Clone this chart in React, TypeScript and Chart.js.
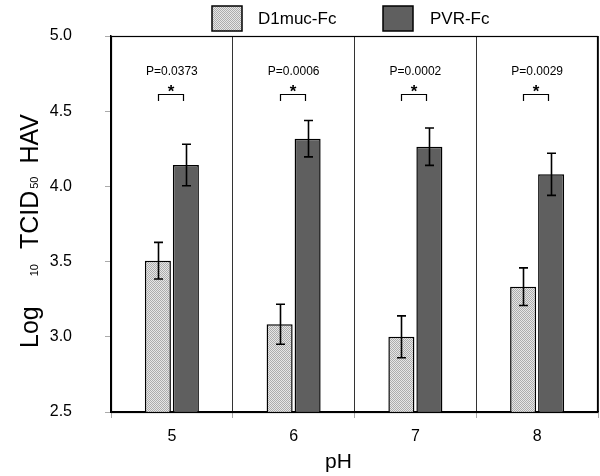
import React, { useEffect, useRef } from 'react';
import { Chart, registerables } from 'chart.js';

Chart.register(...registerables);

const categories = ['5', '6', '7', '8'];
const seriesLabels = ['D1muc-Fc', 'PVR-Fc'];
const d1mucValues = [3.506, 3.083, 3.0, 3.333];
const d1mucErrors = [0.122, 0.133, 0.139, 0.125];
const pvrValues = [4.142, 4.317, 4.264, 4.08];
const pvrErrors = [0.138, 0.121, 0.124, 0.14];
const pValues = ['P=0.0373', 'P=0.0006', 'P=0.0002', 'P=0.0029'];
const yMin = 2.5;
const yMax = 5.0;
const yStep = 0.5;
const xTitle = 'pH';
const yTitleParts = [
  { text: 'Log', sub: false },
  { text: '10', sub: true },
  { text: 'TCID', sub: false },
  { text: '50', sub: true },
  { text: 'HAV', sub: false },
];

const FONT = '"Liberation Sans", Arial, sans-serif';

function makePattern(): CanvasPattern | string {
  const c = document.createElement('canvas');
  c.width = 2;
  c.height = 2;
  const g = c.getContext('2d');
  if (!g) return '#cccccc';
  g.fillStyle = '#e6e6e6';
  g.fillRect(0, 0, 2, 2);
  g.fillStyle = '#acacac';
  g.fillRect(0, 0, 1, 1);
  g.fillRect(1, 1, 1, 1);
  const p = g.createPattern(c, 'repeat');
  return p || '#cccccc';
}

export default function App() {
  const ref = useRef<HTMLCanvasElement | null>(null);

  useEffect(() => {
    document.body.style.margin = '0';
    const canvas = ref.current;
    if (!canvas) return;
    const hatch = makePattern();
    const errorSets = [d1mucErrors, pvrErrors];

    const decor = {
      id: 'decor',
      afterDatasetsDraw(chart: any) {
        const ctx = chart.ctx;
        const yScale = chart.scales.y;
        const xScale = chart.scales.x;
        const area = chart.chartArea;
        ctx.save();
        // error bars
        ctx.strokeStyle = '#000';
        ctx.lineWidth = 1.6;
        chart.data.datasets.forEach((ds: any, di: number) => {
          const meta = chart.getDatasetMeta(di);
          meta.data.forEach((bar: any, i: number) => {
            const v = ds.data[i];
            const e = errorSets[di][i];
            const x = Math.round(bar.x) + 0.5;
            const yt = yScale.getPixelForValue(v + e);
            const yb = yScale.getPixelForValue(v - e);
            ctx.beginPath();
            ctx.moveTo(x, yt);
            ctx.lineTo(x, yb);
            ctx.moveTo(x - 4.5, yt);
            ctx.lineTo(x + 4.5, yt);
            ctx.moveTo(x - 4.5, yb);
            ctx.lineTo(x + 4.5, yb);
            ctx.stroke();
          });
        });
        // p-value annotations
        const m0 = chart.getDatasetMeta(0);
        const m1 = chart.getDatasetMeta(1);
        pValues.forEach((p, i) => {
          const cx = xScale.getPixelForValue(i);
          ctx.fillStyle = '#000';
          ctx.font = `12px ${FONT}`;
          ctx.textAlign = 'center';
          ctx.textBaseline = 'middle';
          ctx.fillText(p, cx, area.top + 36);
          const x1 = Math.round(m0.data[i].x) + 0.5;
          const x2 = Math.round(m1.data[i].x) - 2.5;
          ctx.font = `bold 17px ${FONT}`;
          ctx.textBaseline = 'alphabetic';
          ctx.fillText('*', (x1 + x2) / 2, area.top + 61);
          ctx.lineWidth = 1.2;
          ctx.beginPath();
          ctx.moveTo(x1, area.top + 65);
          ctx.lineTo(x1, area.top + 58.5);
          ctx.lineTo(x2, area.top + 58.5);
          ctx.lineTo(x2, area.top + 65);
          ctx.stroke();
        });
        // frame
        ctx.strokeStyle = '#000';
        ctx.lineWidth = 1.2;
        ctx.strokeRect(area.left + 0.5, area.top + 0.5, area.right - area.left - 1, area.bottom - area.top);
        ctx.restore();
      },
      afterDraw(chart: any) {
        const ctx = chart.ctx;
        const area = chart.chartArea;
        ctx.save();
        ctx.fillStyle = '#000';
        // legend
        const boxes = [212, 383];
        const texts = [258, 430];
        chart.data.datasets.forEach((ds: any, di: number) => {
          ctx.fillStyle = ds.backgroundColor;
          ctx.fillRect(boxes[di], 6, 30, 25);
          ctx.strokeStyle = '#000';
          ctx.lineWidth = 1.5;
          ctx.strokeRect(boxes[di], 6, 30, 25);
          ctx.fillStyle = '#000';
          ctx.font = `17px ${FONT}`;
          ctx.textAlign = 'left';
          ctx.textBaseline = 'middle';
          ctx.fillText(ds.label, texts[di], 19);
        });
        // x title
        ctx.font = `21px ${FONT}`;
        ctx.textAlign = 'center';
        ctx.textBaseline = 'alphabetic';
        ctx.fillText(xTitle, (area.left + area.right) / 2 - 16, 468);
        // y title with subscripts
        const gaps = [30, 15, 2, 13];
        const mainFont = `25px ${FONT}`;
        const subFont = `11px ${FONT}`;
        const widths = yTitleParts.map((p) => {
          ctx.font = p.sub ? subFont : mainFont;
          return ctx.measureText(p.text).width;
        });
        const total = widths.reduce((a, b) => a + b, 0) + gaps.reduce((a, b) => a + b, 0);
        const cy = (area.top + area.bottom) / 2 + 7;
        ctx.translate(38, cy);
        ctx.rotate(-Math.PI / 2);
        let pos = -total / 2;
        ctx.textAlign = 'left';
        yTitleParts.forEach((p, i) => {
          ctx.font = p.sub ? subFont : mainFont;
          ctx.fillText(p.text, pos, 0);
          pos += widths[i] + (i < gaps.length ? gaps[i] : 0);
        });
        ctx.restore();
      },
    };

    const chart = new Chart(canvas, {
      type: 'bar',
      data: {
        labels: categories,
        datasets: [
          {
            label: seriesLabels[0],
            data: d1mucValues,
            backgroundColor: hatch as any,
            borderColor: '#000',
            borderWidth: 1.5,
            barPercentage: 0.93,
            categoryPercentage: 0.46,
          },
          {
            label: seriesLabels[1],
            data: pvrValues,
            backgroundColor: '#5f5f5f',
            borderColor: '#000',
            borderWidth: 1.5,
            barPercentage: 0.93,
            categoryPercentage: 0.46,
          },
        ],
      },
      options: {
        animation: false,
        responsive: false,
        maintainAspectRatio: false,
        layout: { padding: { top: 36, right: 2, left: 0, bottom: 0 } },
        plugins: {
          legend: { display: false },
          tooltip: { enabled: false },
          title: { display: false },
        },
        scales: {
          x: {
            offset: true,
            grid: {
              offset: true,
              display: true,
              drawOnChartArea: true,
              color: '#333',
              lineWidth: 1,
              tickLength: 6,
              tickColor: '#aaa',
            },
            border: { display: true, color: '#000', width: 1.5 },
            ticks: {
              color: '#000',
              font: { family: FONT, size: 16 },
              padding: 9,
            },
            afterFit(scale: any) {
              scale.height = 64;
              scale.paddingLeft = 0;
              scale.paddingRight = 0;
            },
          },
          y: {
            min: yMin,
            max: yMax,
            grid: {
              drawOnChartArea: false,
              drawTicks: true,
              tickLength: 6,
              tickColor: '#aaa',
            },
            border: { display: true, color: '#000', width: 1.5 },
            ticks: {
              stepSize: yStep,
              color: '#000',
              font: { family: FONT, size: 16 },
              padding: 33,
              callback: (v: any) => Number(v).toFixed(1),
            },
            afterFit(scale: any) {
              scale.width = 111;
              scale.paddingTop = 0;
              scale.paddingBottom = 0;
            },
          },
        },
      },
      plugins: [decor],
    });
    return () => chart.destroy();
  }, []);

  return (
    <div style={{ width: 600, height: 476 }}>
      <canvas ref={ref} width={600} height={476} style={{ display: 'block', width: 600, height: 476 }} />
    </div>
  );
}
